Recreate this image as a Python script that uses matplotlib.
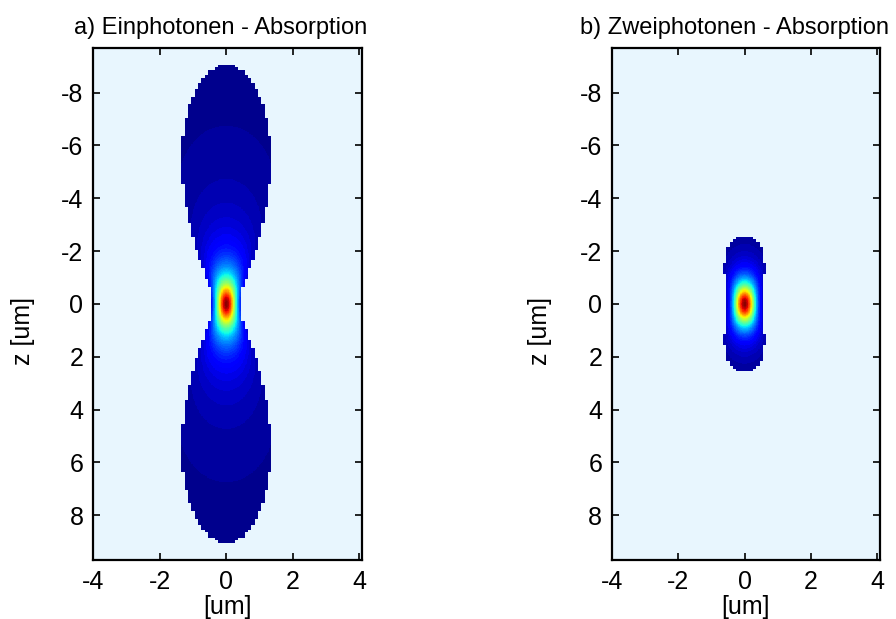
import numpy as np
import matplotlib.pyplot as plt
import matplotlib.colors as mcolors

# values (um)
titles = ['a) Einphotonen - Absorption', 'b) Zweiphotonen - Absorption']
photons = [1, 2]              # intensity exponent
# focus seen in the colours
core_waist = [0.44, 0.65]
core_rayleigh = [0.85, 1.05]
# outline of the shown region
edge_waist = [0.26, 0.50]
edge_rayleigh = [0.76, 0.98]
edge_cutoff = [0.007, 0.0156]
x_ticks = [-4, -2, 0, 2, 4]
z_ticks = [-8, -6, -4, -2, 0, 2, 4, 6, 8]


def beam(X, Z, w0, zr, n):
    w = w0 * np.sqrt(1 + (Z / zr) ** 2)
    return ((w0 / w) ** 2 * np.exp(-2 * X ** 2 / w ** 2)) ** n


step = 0.02
x = np.arange(-4.0, 4.1 + step / 2, step)
z = np.arange(-9.7, 9.7 + step / 2, step)
X, Z = np.meshgrid(x, z)
# outline is on a 0.1 um grid
Xc = np.round(X / 0.1) * 0.1
Zc = np.round(Z / 0.1) * 0.1

bg = '#e8f6fe'
cmap = mcolors.ListedColormap(plt.get_cmap('jet')(np.linspace(1 / 65, 64 / 65, 64)))
cmap.set_bad(bg)

plt.rcParams['font.family'] = ['Liberation Sans', 'DejaVu Sans']
plt.rcParams['axes.unicode_minus'] = False

fig = plt.figure(figsize=(8.96, 6.19), dpi=100)
boxes = [[0.104, 0.095, 0.300, 0.828], [0.683, 0.095, 0.299, 0.828]]
title_x = [0.474, 0.459]
ylab_x = [-0.216, -0.223]

for i in range(2):
    ax = fig.add_axes(boxes[i])
    I = beam(X, Z, core_waist[i], core_rayleigh[i], photons[i])
    edge = beam(Xc, Zc, edge_waist[i], edge_rayleigh[i], photons[i])
    I = np.ma.masked_where(edge < edge_cutoff[i], I)
    ax.pcolormesh(x, z, I, cmap=cmap, vmin=0, vmax=1, shading='nearest')
    ax.set_facecolor(bg)
    ax.set_xlim(-4.0, 4.08)
    ax.set_ylim(9.7, -9.7)
    ax.set_xticks(x_ticks)
    ax.set_yticks(z_ticks)
    ax.tick_params(direction='in', top=True, right=True, length=5, width=1.2,
                   labelsize=18, pad=7)
    for s in ax.spines.values():
        s.set_linewidth(1.6)
    ax.set_xlabel('[um]', fontsize=18, labelpad=1)
    ax.set_ylabel('z [um]', fontsize=18)
    ax.yaxis.set_label_coords(ylab_x[i], 0.447)
    ax.set_title(titles[i], fontsize=17, pad=10, x=title_x[i])

fig.savefig('out.png', dpi=100)
